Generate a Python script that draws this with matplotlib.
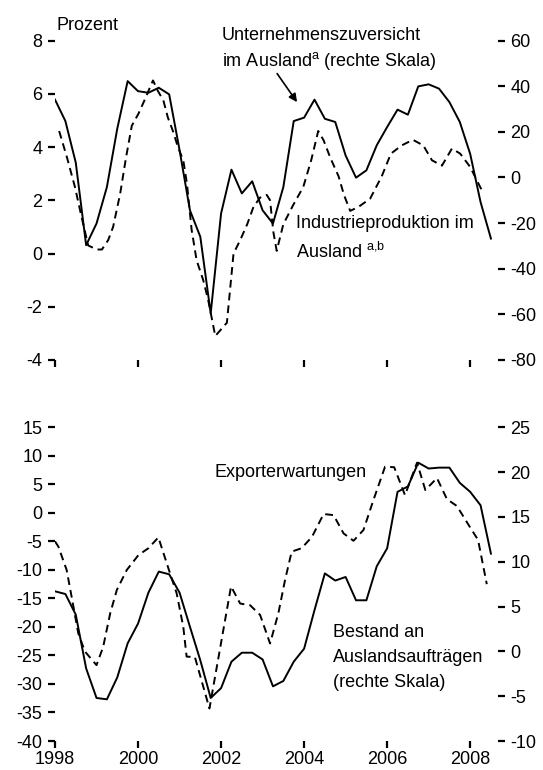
import matplotlib
matplotlib.use("Agg")
import matplotlib.pyplot as plt
import numpy as np

# ======================================================
# Data
# ======================================================

# quarterly positions 1998Q1 .. 2008Q3
quarters = 1998 + 0.25 * np.arange(43)

# top panel: Unternehmenszuversicht im Ausland (right scale, solid)
zuversicht = [34.1, 24.7, 6.5, -29.7, -20.2, -4.2, 21.4, 42.2, 37.8, 37.1,
              39.3, 36.4, 12.0, -14.4, -26.0, -59.6, -15.8, 3.4, -7.0, -1.7,
              -14.4, -20.2, -4.2, 24.7, 26.2, 34.1, 25.7, 24.3, 9.6, -0.1,
              3.1, 14.1, 22.1, 29.7, 27.5, 39.9, 40.8, 38.9, 33.0, 24.3,
              10.3, -10.8, -26.8]

# top panel: Industrieproduktion im Ausland (left scale, dashed)
ip_years = [1998.10, 1998.29, 1998.48, 1998.65, 1998.80, 1999.01, 1999.13,
            1999.28, 1999.40, 1999.57, 1999.71, 1999.85, 2000.01, 2000.14,
            2000.29, 2000.36, 2000.48, 2000.61, 2000.72, 2000.85, 2000.96,
            2001.09, 2001.18, 2001.29, 2001.41, 2001.57, 2001.69, 2001.86,
            2002.14, 2002.30, 2002.46, 2002.63, 2002.78, 2002.94, 2003.10,
            2003.18, 2003.26, 2003.34, 2003.50, 2003.73, 2003.98, 2004.17,
            2004.34, 2004.47, 2004.63, 2004.83, 2004.96, 2005.11, 2005.31,
            2005.59, 2005.87, 2006.09, 2006.35, 2006.62, 2006.87, 2007.08,
            2007.32, 2007.56, 2007.76, 2008.00, 2008.32]
ip_values = [4.6, 3.6, 2.5, 1.3, 0.3, 0.15, 0.15,
             0.5, 1.0, 2.25, 3.6, 4.8, 5.25, 5.7,
             6.25, 6.5, 6.1, 5.75, 5.1, 4.56, 4.0,
             3.5, 2.6, 0.9, -0.25, -1.0, -1.75, -3.1,
             -2.6, 0.0, 0.5, 1.1, 1.75, 2.1, 2.2,
             2.0, 0.8, 0.1, 1.1, 1.8, 2.5, 3.5,
             4.6, 4.25, 3.6, 2.9, 2.2, 1.6, 1.75,
             2.06, 2.9, 3.75, 4.06, 4.27, 4.06, 3.5,
             3.3, 3.94, 3.75, 3.25, 2.25]

# bottom panel: Bestand an Auslandsauftraegen (right scale, solid)
auftraege = [6.7, 6.4, 4.1, -1.9, -5.2, -5.35, -2.9, 0.9, 3.1, 6.55,
             8.9, 8.6, 6.55, 2.75, -1.0, -5.2, -4.1, -1.15, -0.15, -0.15,
             -0.9, -3.9, -3.3, -1.15, 0.3, 4.6, 8.7, 7.9, 8.3, 5.7,
             5.7, 9.5, 11.5, 17.8, 18.4, 21.05, 20.4, 20.5, 20.5, 18.8,
             17.8, 16.3, 10.9]

# bottom panel: Exporterwartungen (left scale, dashed)
exp_years = [1998.00, 1998.08, 1998.28, 1998.40, 1998.56, 1998.72, 1999.00,
             1999.16, 1999.33, 1999.49, 1999.73, 2000.01, 2000.25, 2000.49,
             2000.73, 2000.93, 2001.09, 2001.17, 2001.37, 2001.72, 2002.24,
             2002.46, 2002.70, 2002.94, 2003.18, 2003.38, 2003.54, 2003.70,
             2003.94, 2004.19, 2004.47, 2004.71, 2004.95, 2005.19, 2005.43,
             2005.67, 2005.95, 2006.17, 2006.43, 2006.72, 2006.92, 2007.20,
             2007.44, 2007.68, 2007.96, 2008.19, 2008.40]
exp_values = [-5.0, -5.9, -10.0, -14.7, -21.1, -24.3, -26.7,
              -23.5, -17.6, -13.5, -10.0, -7.4, -6.2, -4.3,
              -9.7, -14.1, -20.0, -25.2, -25.3, -34.3, -12.9,
              -15.9, -16.2, -17.9, -22.9, -17.6, -11.8, -6.8,
              -6.2, -4.2, -0.2, -0.4, -3.6, -4.9, -3.0,
              2.25, 8.1, 8.0, 3.1, 8.8, 4.0, 6.1,
              2.4, 1.2, -2.1, -4.75, -12.5]

year_ticks = [1998, 2000, 2002, 2004, 2006, 2008]
top_left_ticks = [-4, -2, 0, 2, 4, 6, 8]
top_right_ticks = [-80, -60, -40, -20, 0, 20, 40, 60]
bot_left_ticks = [-40, -35, -30, -25, -20, -15, -10, -5, 0, 5, 10, 15]
bot_right_ticks = [-10, -5, 0, 5, 10, 15, 20, 25]

# ======================================================
# Style
# ======================================================

FONT = ["Liberation Sans Narrow", "Liberation Sans", "DejaVu Sans"]
plt.rcParams["font.family"] = FONT
plt.rcParams["mathtext.fontset"] = "custom"
plt.rcParams["mathtext.rm"] = "Liberation Sans"
plt.rcParams["mathtext.it"] = "Liberation Sans"
plt.rcParams["axes.unicode_minus"] = False
plt.rcParams["font.size"] = 13

DASH = (4, 2.6)


def style_axes(ax, side):
    for s in ax.spines.values():
        s.set_visible(False)
    ax.tick_params(axis="y", which="both", direction="out", length=5,
                   width=1.6, pad=4, labelsize=13, colors="black",
                   left=(side == "left"), labelleft=(side == "left"),
                   right=(side == "right"), labelright=(side == "right"))
    ax.tick_params(axis="x", direction="out", length=5, width=1.6, pad=2,
                   labelsize=13)


fig = plt.figure(figsize=(5.43, 7.7), dpi=100)

L, W = 55 / 543, 443 / 543
ax_top = fig.add_axes([L, 1 - 360 / 770, W, 319.5 / 770])
ax_bot = fig.add_axes([L, 1 - 741 / 770, W, 313.7 / 770])

# ======================================================
# Top panel
# ======================================================

ax_top.plot(ip_years, ip_values, color="black", lw=1.4, dashes=DASH)
ax_top.set_ylim(-4, 8)
ax_top.set_yticks(top_left_ticks)
ax_top.set_xlim(1998, 2008.67)
ax_top.set_xticks(year_ticks)
ax_top.set_xticklabels([])
style_axes(ax_top, "left")

ax_top_r = ax_top.twinx()
ax_top_r.plot(quarters, zuversicht, color="black", lw=1.4)
ax_top_r.set_ylim(-80, 60)
ax_top_r.set_yticks(top_right_ticks)
style_axes(ax_top_r, "right")
ax_top_r.tick_params(axis="x", bottom=False)

ax_top_r.annotate("", xy=(2003.83, 33), xytext=(2003.35, 45.5),
                  arrowprops=dict(arrowstyle="-|>", color="black", lw=1.2,
                                  mutation_scale=12, shrinkA=0, shrinkB=0))

# ======================================================
# Bottom panel
# ======================================================

ax_bot.plot(exp_years, exp_values, color="black", lw=1.4, dashes=DASH)
ax_bot.set_ylim(-40, 15)
ax_bot.set_yticks(bot_left_ticks)
ax_bot.set_xlim(1998, 2008.67)
ax_bot.set_xticks(year_ticks)
ax_bot.set_xticklabels([str(y) for y in year_ticks])
style_axes(ax_bot, "left")

ax_bot_r = ax_bot.twinx()
ax_bot_r.plot(quarters, auftraege, color="black", lw=1.4)
ax_bot_r.set_ylim(-10, 25)
ax_bot_r.set_yticks(bot_right_ticks)
style_axes(ax_bot_r, "right")
ax_bot_r.tick_params(axis="x", bottom=False)

# ======================================================
# Labels
# ======================================================


def label(x, y, s):
    fig.text(x / 543, 1 - y / 770, s, ha="left", va="baseline",
             fontsize=13, color="black")


label(56, 30, "Prozent")
label(222, 40, "Unternehmenszuversicht")
label(222, 66, "im Ausland$^{\\mathrm{a}}$ (rechte Skala)")
label(296, 228, "Industrieproduktion im")
label(296, 258, "Ausland $^{\\mathrm{a{,}b}}$")
label(215, 477, "Exporterwartungen")
label(333, 637, "Bestand an")
label(333, 662, "Auslandsaufträgen")
label(333, 687, "(rechte Skala)")

fig.savefig("out.png", dpi=100)
